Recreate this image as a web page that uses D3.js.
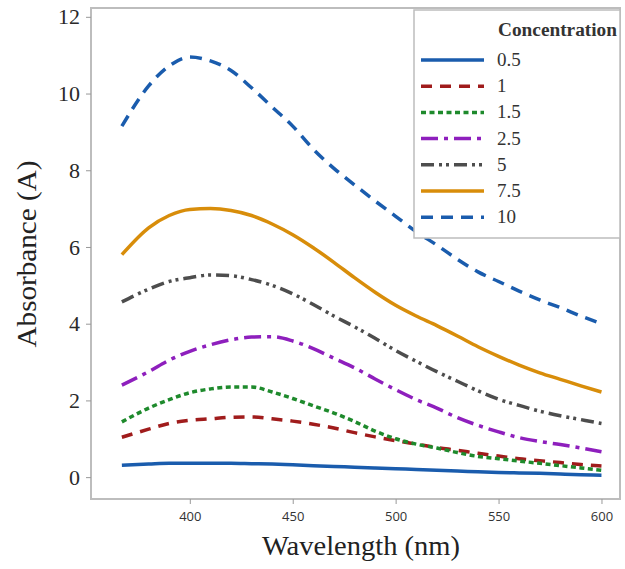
<!DOCTYPE html>
<html><head><meta charset="utf-8">
<script src="https://cdn.jsdelivr.net/npm/d3@7"></script>
<style>body{margin:0;background:#fff}svg{display:block}</style>
</head><body>
<svg id="chart" width="625" height="569"></svg>
<script>
const wavelengths = [367,380,390,400,410,420,430,440,450,460,470,480,490,500,510,520,530,540,550,560,570,580,590,600];
const concentrations = ["0.5","1","1.5","2.5","5","7.5","10"];
const c05 = [0.31,0.34,0.36,0.36,0.36,0.36,0.35,0.34,0.32,0.30,0.28,0.26,0.24,0.22,0.20,0.18,0.16,0.14,0.12,0.11,0.10,0.08,0.06,0.05];
const c1  = [1.04,1.25,1.40,1.48,1.52,1.56,1.57,1.52,1.46,1.38,1.28,1.16,1.05,0.95,0.86,0.77,0.70,0.62,0.55,0.48,0.43,0.38,0.33,0.29];
const c15 = [1.44,1.80,2.02,2.20,2.30,2.35,2.35,2.22,2.05,1.86,1.67,1.45,1.20,1.00,0.86,0.76,0.64,0.54,0.48,0.42,0.36,0.30,0.24,0.18];
const c25 = [2.40,2.75,3.05,3.28,3.45,3.58,3.65,3.66,3.55,3.35,3.10,2.85,2.56,2.28,2.02,1.80,1.55,1.35,1.18,1.03,0.93,0.85,0.76,0.66];
const c5  = [4.57,4.90,5.10,5.20,5.27,5.25,5.15,5.00,4.78,4.50,4.20,3.92,3.62,3.30,3.02,2.75,2.50,2.25,2.03,1.87,1.72,1.60,1.50,1.40];
const c75 = [5.80,6.50,6.82,6.98,7.00,6.95,6.82,6.60,6.32,5.98,5.60,5.20,4.82,4.48,4.20,3.95,3.68,3.40,3.15,2.92,2.72,2.55,2.38,2.22];
const c10 = [9.15,10.20,10.72,10.95,10.85,10.60,10.15,9.65,9.15,8.55,8.05,7.62,7.20,6.80,6.40,6.05,5.68,5.35,5.10,4.85,4.62,4.42,4.20,4.00];
const seriesValues = [c05,c1,c15,c25,c5,c75,c10];
const xTicks = [400,450,500,550,600];
const yTicks = [0,2,4,6,8,10,12];

const colors = ["#1a5cad","#a01c1c","#1e8a2c","#8e1fbd","#4d4d4d","#d88d0a","#1a5cad"];
const dashes = [null,"11,8","5,3.5","17,6,4,6","13,5,3,4,3,5","","12,8"];

const svg = d3.select("#chart");
const L=91,R=620,T=8,B=499;
const x = d3.scaleLinear().domain([352,609]).range([L,R]);
const y = d3.scaleLinear().domain([-0.57,12.23]).range([B,T]);

// frame
svg.append("rect").attr("x",L).attr("y",T).attr("width",R-L).attr("height",B-T)
  .attr("fill","none").attr("stroke","#bdbdbd").attr("stroke-width",2);

const yAxis = svg.append("g").attr("transform",`translate(${L},0)`)
  .call(d3.axisLeft(y).tickValues(yTicks).tickSize(5).tickPadding(6));
yAxis.select(".domain").remove();
yAxis.selectAll("line").attr("stroke","#999");
yAxis.selectAll("text").attr("font-family","Liberation Serif, serif").attr("font-size",22).attr("fill","#2a2a2a");

const xAxis = svg.append("g").attr("transform",`translate(0,${B})`)
  .call(d3.axisBottom(x).tickValues(xTicks).tickSize(5).tickPadding(8));
xAxis.select(".domain").remove();
xAxis.selectAll("line").attr("stroke","#999");
xAxis.selectAll("text").attr("font-family","Open Sans, sans-serif").attr("font-size",13).attr("fill","#333");

svg.append("text").attr("x",361).attr("y",555).attr("text-anchor","middle")
  .attr("font-family","Liberation Serif, serif").attr("font-size",28).attr("fill","#222")
  .attr("textLength",198).attr("lengthAdjust","spacingAndGlyphs")
  .text("Wavelength (nm)");
svg.append("text").attr("transform","translate(36,254) rotate(-90)").attr("text-anchor","middle")
  .attr("font-family","Liberation Serif, serif").attr("font-size",28).attr("fill","#222")
  .attr("textLength",187).attr("lengthAdjust","spacingAndGlyphs")
  .text("Absorbance (A)");

const line = d3.line().x((d,i)=>x(wavelengths[i])).y(d=>y(d)).curve(d3.curveMonotoneX);
seriesValues.forEach((vals,k)=>{
  const p = svg.append("path").datum(vals).attr("d",line)
    .attr("fill","none").attr("stroke",colors[k]).attr("stroke-width",3.5);
  if(dashes[k]) p.attr("stroke-dasharray",dashes[k]);
});

// legend
const lg = svg.append("g");
lg.append("rect").attr("x",414).attr("y",10).attr("width",206).attr("height",228)
  .attr("fill","#fff").attr("stroke","#bdbdbd").attr("stroke-width",1.5);
lg.append("text").attr("x",498).attr("y",36).attr("font-family","Liberation Serif, serif")
  .attr("font-size",18).attr("font-weight","bold").attr("fill","#333")
  .attr("textLength",119).attr("lengthAdjust","spacingAndGlyphs").text("Concentration");
concentrations.forEach((c,k)=>{
  const yy = 60 + k*26.2;
  const l = lg.append("line").attr("x1",421).attr("x2",484).attr("y1",yy).attr("y2",yy)
    .attr("stroke",colors[k]).attr("stroke-width",3.5);
  if(dashes[k]) l.attr("stroke-dasharray",dashes[k]);
  lg.append("text").attr("x",497).attr("y",yy+6).attr("font-family","Liberation Serif, serif")
    .attr("font-size",19).attr("fill","#333").text(c);
});
</script>
</body></html>
